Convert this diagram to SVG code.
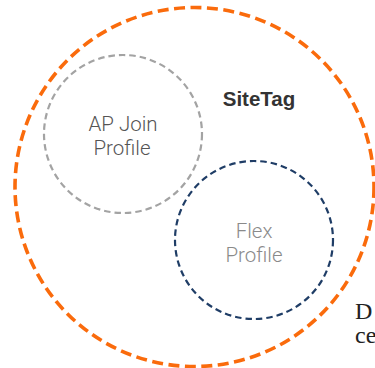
<svg xmlns="http://www.w3.org/2000/svg" width="375" height="368" viewBox="0 0 375 368">
  <style>
    .ring { fill: none; }
    .site { stroke: #fa6b0c; stroke-width: 3.6; stroke-dasharray: 11 5.5; }
    .join { stroke: #a3a3a3; stroke-width: 2.2; stroke-dasharray: 6.5 4; }
    .flex { stroke: #1f3d66; stroke-width: 2.2; stroke-dasharray: 6.5 4; }
    .lbl { font-family: Roboto, "Liberation Sans", Arial, sans-serif; font-weight: 300; font-size: 20.5px; text-anchor: middle; }
    .serif { font-family: "Liberation Serif", "Times New Roman", serif; font-size: 24px; fill: #222; }
  </style>
  <rect width="375" height="368" fill="#ffffff"/>
  <g id="sitetag">
    <circle class="ring site" cx="194.5" cy="187" r="179.5"/>
    <text x="259" y="106" font-family="'Liberation Sans', Arial, sans-serif" font-weight="bold" fill="#333333" font-size="20.5" text-anchor="middle">SiteTag</text>
  </g>
  <g id="ap-join-profile">
    <circle class="ring join" cx="123" cy="134" r="79"/>
    <text class="lbl" x="123" y="131" fill="#555555">AP Join</text>
    <text class="lbl" x="122" y="155" fill="#555555">Profile</text>
  </g>
  <g id="flex-profile">
    <circle class="ring flex" cx="254" cy="240" r="79"/>
    <text class="lbl" x="254" y="238" fill="#8a8a8a">Flex</text>
    <text class="lbl" x="254" y="262" fill="#8a8a8a">Profile</text>
  </g>
  <g id="side-text">
    <text class="serif" x="355" y="319">D</text>
    <text class="serif" x="355" y="343">ce</text>
  </g>
</svg>
